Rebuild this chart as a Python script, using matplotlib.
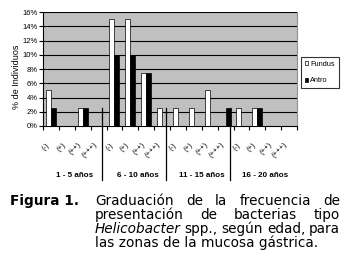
import numpy as np
import matplotlib
matplotlib.use('Agg')
import matplotlib.pyplot as plt
from matplotlib.patches import Patch
import matplotlib.transforms as mtransforms

# datos
grupos = ['1 - 5 años', '6 - 10 años', '11 - 15 años', '16 - 20 años']
grados = ['(-)', '(+)', '(++)', '(+++)']
fundus = [5, 0, 2.5, 0, 15, 15, 7.5, 2.5, 2.5, 2.5, 5, 0, 2.5, 2.5, 0, 0]
antro = [2.5, 0, 2.5, 0, 10, 10, 7.5, 0, 0, 0, 0, 2.5, 0, 2.5, 0, 0]
yticks = [0, 2, 4, 6, 8, 10, 12, 14, 16]

W, H = 344, 260
fig = plt.figure(figsize=(W / 100, H / 100), dpi=100)
ax = fig.add_axes([43 / W, 1 - 126 / H, (297 - 43) / W, 114 / H])

x = np.arange(len(fundus))
bw = 0.315
ax.set_facecolor('#c0c0c0')
for v in yticks[1:]:
    ax.axhline(v, color='black', lw=0.8, zorder=1)
ax.bar(x - bw / 2, fundus, bw, color='white', edgecolor='black', lw=0.5, zorder=3)
ax.bar(x + bw / 2, antro, bw, color='black', edgecolor='black', lw=0.5, zorder=3)

ax.set_xlim(-0.5, len(fundus) - 0.5)
ax.set_ylim(0, 16)
ax.set_yticks(yticks)
ax.set_yticklabels([f'{v}%' for v in yticks], fontsize=5.5, family='Liberation Sans')
ax.tick_params(axis='y', length=3, width=0.8, pad=1)

ax.set_xticks(x)
ax.set_xticklabels(grados * len(grupos), rotation=45, ha='right', va='top',
                   fontsize=5.5, family='Liberation Sans')
ax.tick_params(axis='x', which='major', length=0, pad=11)
ax.set_xticks(np.arange(-0.5, len(fundus), 1), minor=True)
ax.tick_params(axis='x', which='minor', length=3, width=0.8)

ax.spines['top'].set_visible(False)
ax.spines['right'].set_color('#909090')
ax.spines['left'].set_linewidth(0.8)
ax.spines['bottom'].set_linewidth(0.8)

# separadores de grupos y etiquetas
trans = mtransforms.blended_transform_factory(ax.transData, ax.transAxes)
for s in [3.2, 7.22, 11.26]:
    ax.plot([s, s], [2.5 / 16, -0.474], transform=trans, color='black', lw=0.9,
            clip_on=False, zorder=4)
for i, g in enumerate(grupos):
    ax.text(i * 4 + 1.5, -0.43, g, transform=trans, ha='center', va='center',
            fontsize=5.8, fontweight='bold', family='Liberation Sans')

fig.text(16.5 / W, 1 - 76.5 / H, '% de Individuos', rotation=90, ha='center',
         va='center', fontsize=6.5, family='Liberation Sans')

handles = [Patch(facecolor='white', edgecolor='black', lw=0.5),
           Patch(facecolor='black', edgecolor='black', lw=0.5)]
leg = fig.legend(handles, ['Fundus', 'Antro'], loc='upper left',
                 bbox_to_anchor=(301 / W, 1 - 57 / H), borderaxespad=0,
                 handlelength=0.5, handleheight=0.5,
                 handletextpad=0.25, labelspacing=1.3, borderpad=0.5,
                 fancybox=False, prop={'family': 'Liberation Sans', 'size': 5.3})
leg.get_frame().set_edgecolor('black')
leg.get_frame().set_linewidth(0.8)

# pie de figura justificado
fs = 9.8
fig.text(10 / W, 1 - 205 / H, 'Figura 1.', fontsize=fs, fontweight='bold',
         va='baseline', ha='left', family='DejaVu Sans')
lineas = [
    [('Graduación', 'normal'), ('de', 'normal'), ('la', 'normal'),
     ('frecuencia', 'normal'), ('de', 'normal')],
    [('presentación', 'normal'), ('de', 'normal'), ('bacterias', 'normal'),
     ('tipo', 'normal')],
    [('Helicobacter', 'italic'), ('spp.,', 'normal'), ('según', 'normal'),
     ('edad,', 'normal'), ('para', 'normal')],
]
bases = [205, 219, 233, 247]
x0, x1 = 95, 340
fig.canvas.draw()
r = fig.canvas.get_renderer()
for palabras, b in zip(lineas, bases):
    ts = [fig.text(0, 1 - b / H, p, fontsize=fs, style=st, va='baseline',
                   ha='left', family='DejaVu Sans') for p, st in palabras]
    anchos = [t.get_window_extent(r).width for t in ts]
    gap = (x1 - x0 - sum(anchos)) / (len(ts) - 1)
    pos = x0
    for t, w in zip(ts, anchos):
        t.set_x(pos / W)
        pos += w + gap
fig.text(x0 / W, 1 - bases[3] / H, 'las zonas de la mucosa gástrica.', fontsize=fs,
         va='baseline', ha='left', family='DejaVu Sans')

fig.savefig('out.png', dpi=100)
